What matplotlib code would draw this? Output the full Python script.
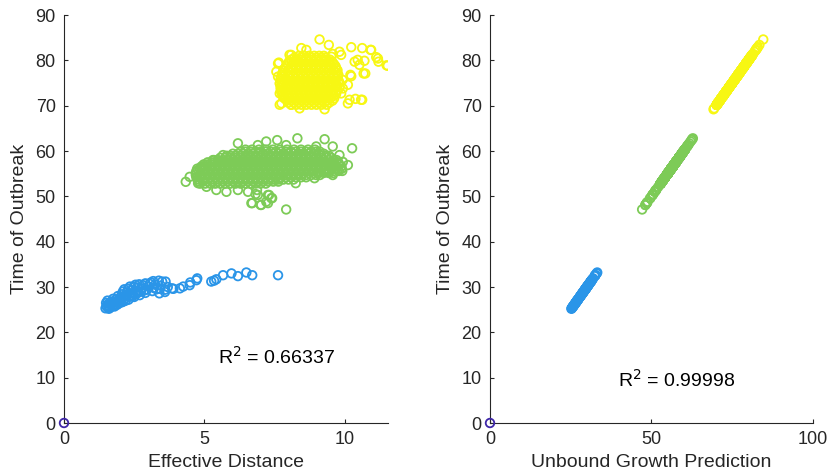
import numpy as np
import matplotlib
matplotlib.use("Agg")
import matplotlib.pyplot as plt

plt.rcParams['font.family'] = ['Liberation Sans', 'DejaVu Sans']

# ---------------- data ----------------
# Yellow cluster: dense core given as rows (time value, list of effective distances)
yellow_core_rows = [
    (70.2, [8.10, 8.28, 8.46, 8.64, 8.82, 9.00, 9.18, 9.36]),
    (70.65, [8.00, 8.19, 8.37, 8.55, 8.73, 8.91, 9.09, 9.27, 9.45]),
    (71.1, [7.95, 8.13, 8.31, 8.49, 8.67, 8.85, 9.03, 9.21, 9.39, 9.57]),
    (71.6, [7.86, 8.04, 8.22, 8.40, 8.58, 8.76, 8.94, 9.12, 9.30, 9.48, 9.63]),
    (72.1, [7.80, 7.98, 8.16, 8.34, 8.52, 8.70, 8.88, 9.06, 9.24, 9.42, 9.60]),
    (72.55, [7.78, 7.93, 8.11, 8.29, 8.47, 8.65, 8.83, 9.01, 9.19, 9.37, 9.55, 9.70]),
    (73.0, [7.75, 7.89, 8.07, 8.25, 8.43, 8.61, 8.79, 8.97, 9.15, 9.33, 9.51, 9.69]),
    (73.5, [7.73, 7.99, 8.17, 8.35, 8.53, 8.71, 8.89, 9.07, 9.25, 9.43, 9.61, 9.76]),
    (74.0, [7.72, 7.90, 8.08, 8.26, 8.44, 8.62, 8.80, 8.98, 9.16, 9.34, 9.52, 9.70, 9.82]),
    (74.45, [7.76, 7.95, 8.13, 8.31, 8.49, 8.67, 8.85, 9.03, 9.21, 9.39, 9.57, 9.74]),
    (74.9, [7.70, 7.81, 7.99, 8.17, 8.35, 8.53, 8.71, 8.89, 9.07, 9.25, 9.43, 9.61, 9.79]),
    (75.4, [7.74, 7.85, 8.03, 8.21, 8.39, 8.57, 8.75, 8.93, 9.11, 9.29, 9.47, 9.65, 9.80]),
    (75.9, [7.72, 7.90, 8.08, 8.26, 8.44, 8.62, 8.80, 8.98, 9.16, 9.34, 9.52, 9.70]),
    (76.35, [7.81, 7.99, 8.17, 8.35, 8.53, 8.71, 8.89, 9.07, 9.25, 9.43, 9.61, 9.76]),
    (76.8, [7.76, 7.99, 8.17, 8.35, 8.53, 8.71, 8.89, 9.07, 9.25, 9.43, 9.61, 9.78]),
    (77.3, [7.80, 8.08, 8.26, 8.44, 8.62, 8.80, 8.98, 9.16, 9.34, 9.52, 9.70]),
    (77.8, [7.82, 8.00, 8.18, 8.36, 8.54, 8.72, 8.90, 9.08, 9.26, 9.44, 9.62, 9.75]),
    (78.25, [7.88, 8.09, 8.27, 8.45, 8.63, 8.81, 8.99, 9.17, 9.35, 9.53, 9.70]),
    (78.7, [7.92, 8.09, 8.27, 8.45, 8.63, 8.81, 8.99, 9.17, 9.35, 9.53, 9.68]),
    (79.2, [7.97, 8.18, 8.36, 8.54, 8.72, 8.90, 9.08, 9.26, 9.44, 9.62]),
    (79.7, [8.02, 8.18, 8.36, 8.54, 8.72, 8.90, 9.08, 9.26, 9.44, 9.56]),
    (80.15, [8.10, 8.27, 8.45, 8.63, 8.81, 8.99, 9.17, 9.35, 9.48]),
    (80.6, [8.22, 8.45, 8.63, 8.81, 8.99, 9.17, 9.32]),
    (81.0, [8.38, 8.56, 8.74, 8.92, 9.10, 9.26]),
]
yellow_edge_dist = [9.11, 9.44, 8.46, 8.10, 7.66, 10.24, 10.63, 10.93, 11.13, 11.21,
                    11.50, 10.74, 10.47, 10.71, 9.88, 9.58, 10.21, 10.12, 9.88, 10.18,
                    10.39, 10.63, 10.12, 7.69, 7.75, 8.10, 7.57, 7.63, 11.19, 11.54,
                    10.68, 10.59, 7.69, 8.40, 9.29, 10.95, 9.82, 10.24, 9.94, 9.93,
                    7.63, 7.69, 7.75, 8.04, 8.64, 9.53, 10.36, 10.53]
yellow_edge_time = [84.6, 83.4, 82.7, 81.2, 79.5, 82.9, 82.7, 82.3, 80.7, 79.7,
                    78.9, 77.1, 80.1, 79.9, 81.2, 81.4, 76.8, 74.6, 72.7, 71.3,
                    71.5, 71.3, 70.5, 72.7, 70.5, 70.2, 77.5, 76.4, 80.4, 78.8,
                    77.1, 71.3, 70.2, 69.4, 69.2, 82.3, 81.9, 76.5, 73.8, 75.7,
                    79.3, 74.9, 73.1, 81.2, 82.3, 80.8, 79.7, 79.0]

# Green cluster: dense core rows (time value, list of effective distances)
green_core_rows = [
    (52.8, [4.85, 5.03, 5.21, 5.39, 5.57, 5.75, 5.93, 6.11, 6.29, 6.47, 6.65, 6.83, 7.01, 7.19]),
    (53.25, [4.80, 4.94, 5.12, 5.30, 5.48, 5.66, 5.84, 6.02, 6.20, 6.38, 6.56, 6.74, 6.92, 7.10,
             7.28, 7.46, 7.64]),
    (53.7, [4.76, 4.94, 5.12, 5.30, 5.48, 5.66, 5.84, 6.02, 6.20, 6.38, 6.56, 6.74, 6.92, 7.10,
            7.28, 7.46, 7.64, 7.82, 8.00, 8.18]),
    (54.2, [4.72, 4.85, 5.03, 5.21, 5.39, 5.57, 5.75, 5.93, 6.11, 6.29, 6.47, 6.65, 6.83, 7.01,
            7.19, 7.37, 7.55, 7.73, 7.91, 8.09, 8.27, 8.45, 8.63]),
    (54.7, [4.70, 4.85, 5.03, 5.21, 5.39, 5.57, 5.75, 5.93, 6.11, 6.29, 6.47, 6.65, 6.83, 7.01,
            7.19, 7.37, 7.55, 7.73, 7.91, 8.09, 8.27, 8.45, 8.63, 8.81, 8.99, 9.12]),
    (55.15, [4.70, 4.94, 5.12, 5.30, 5.48, 5.66, 5.84, 6.02, 6.20, 6.38, 6.56, 6.74, 6.92, 7.10,
             7.28, 7.46, 7.64, 7.82, 8.00, 8.18, 8.36, 8.54, 8.72, 8.90, 9.08, 9.26, 9.44, 9.60]),
    (55.6, [4.72, 4.94, 5.12, 5.30, 5.48, 5.66, 5.84, 6.02, 6.20, 6.38, 6.56, 6.74, 6.92, 7.10,
            7.28, 7.46, 7.64, 7.82, 8.00, 8.18, 8.36, 8.54, 8.72, 8.90, 9.08, 9.26, 9.44, 9.62,
            9.80, 9.92]),
    (56.1, [4.75, 4.85, 5.03, 5.21, 5.39, 5.57, 5.75, 5.93, 6.11, 6.29, 6.47, 6.65, 6.83, 7.01,
            7.19, 7.37, 7.55, 7.73, 7.91, 8.09, 8.27, 8.45, 8.63, 8.81, 8.99, 9.17, 9.35, 9.53,
            9.71, 9.90]),
    (56.6, [4.90, 5.03, 5.21, 5.39, 5.57, 5.75, 5.93, 6.11, 6.29, 6.47, 6.65, 6.83, 7.01, 7.19,
            7.37, 7.55, 7.73, 7.91, 8.09, 8.27, 8.45, 8.63, 8.81, 8.99, 9.17, 9.35, 9.53, 9.71,
            9.89]),
    (57.05, [4.98, 5.12, 5.30, 5.48, 5.66, 5.84, 6.02, 6.20, 6.38, 6.56, 6.74, 6.92, 7.10, 7.28,
             7.46, 7.64, 7.82, 8.00, 8.18, 8.36, 8.54, 8.72, 8.90, 9.08, 9.26, 9.44, 9.62, 9.80]),
    (57.5, [5.12, 5.30, 5.48, 5.66, 5.84, 6.02, 6.20, 6.38, 6.56, 6.74, 6.92, 7.10, 7.28, 7.46,
            7.64, 7.82, 8.00, 8.18, 8.36, 8.54, 8.72, 8.90, 9.08, 9.26, 9.44, 9.62, 9.78]),
    (58.0, [5.35, 5.48, 5.66, 5.84, 6.02, 6.20, 6.38, 6.56, 6.74, 6.92, 7.10, 7.28, 7.46, 7.64,
            7.82, 8.00, 8.18, 8.36, 8.54, 8.72, 8.90, 9.08, 9.26, 9.44, 9.62, 9.72]),
    (58.5, [5.57, 5.75, 5.93, 6.11, 6.29, 6.47, 6.65, 6.83, 7.01, 7.19, 7.37, 7.55, 7.73, 7.91,
            8.09, 8.27, 8.45, 8.63, 8.81, 8.99, 9.17, 9.35, 9.53]),
    (58.95, [5.80, 5.93, 6.11, 6.29, 6.47, 6.65, 6.83, 7.01, 7.19, 7.37, 7.55, 7.73, 7.91, 8.09,
             8.27, 8.45, 8.63, 8.81, 8.99, 9.17, 9.35, 9.45]),
    (59.4, [6.02, 6.20, 6.38, 6.56, 6.74, 6.92, 7.10, 7.28, 7.46, 7.64, 7.82, 8.00, 8.18, 8.36,
            8.54, 8.72, 8.90, 9.08, 9.26]),
    (59.85, [6.30, 6.47, 6.65, 6.83, 7.01, 7.19, 7.37, 7.55, 7.73, 7.91, 8.09, 8.27, 8.45, 8.63,
             8.81, 8.99, 9.12]),
    (60.3, [6.47, 6.70, 6.95, 7.20, 7.45, 7.70, 7.95, 8.20, 8.45, 8.70, 8.95]),
]
green_edge_dist = [10.27, 10.12, 9.29, 8.32, 7.60, 7.21, 6.20, 8.99, 9.58, 4.34,
                   4.48, 4.78, 5.79, 6.20, 6.56, 6.88, 6.91, 6.71, 7.03, 7.27,
                   7.21, 7.42, 7.92, 7.69, 8.26, 8.93, 9.58, 5.43, 5.08, 9.82,
                   9.94, 9.76, 9.35, 4.96, 5.31, 5.67, 6.91, 7.92, 6.68, 7.01,
                   7.27, 7.39, 7.31, 6.83]
green_edge_time = [60.6, 56.9, 62.6, 62.8, 62.4, 62.1, 61.7, 61.0, 61.0, 53.2,
                   54.3, 52.9, 51.0, 51.4, 51.0, 51.4, 50.3, 48.5, 48.1, 50.3,
                   48.8, 49.6, 47.1, 54.0, 52.9, 54.0, 54.7, 51.4, 52.1, 59.1,
                   57.6, 55.8, 55.4, 56.6, 58.0, 59.1, 61.3, 61.3, 48.5, 48.1,
                   48.5, 49.6, 50.3, 50.5]

# Blue cluster
blue_dist = [1.48, 1.52, 1.50, 1.55, 1.62, 1.66, 1.70, 1.58, 1.78, 1.82, 1.86, 1.75,
             1.95, 1.98, 2.02, 2.06, 1.92, 2.12, 2.16, 2.20, 2.24, 2.10, 2.30, 2.34,
             2.38, 2.42, 2.28, 2.50, 2.54, 2.58, 2.62, 2.48, 2.70, 2.74, 2.78, 2.82,
             2.68, 2.90, 2.95, 3.00, 3.05, 3.15, 3.20, 3.25, 3.10, 3.40, 3.42, 3.45,
             3.50, 3.38, 3.62, 3.60, 3.70, 3.85, 3.90, 3.60, 4.13, 4.25, 4.48, 4.50,
             4.72, 4.75, 5.25, 5.35, 5.43, 5.67, 5.97, 6.20, 6.50, 6.71, 7.63,
             1.60, 1.72, 1.90, 2.05, 2.20, 2.45, 2.65, 2.85, 3.30, 2.35, 2.55, 2.90,
             3.18, 2.15, 1.53, 1.64, 1.68, 1.80, 1.88, 2.00, 2.14, 2.26, 2.40, 2.60]
blue_time = [25.3, 25.9, 26.5, 27.0, 25.6, 26.2, 26.8, 26.3, 26.0, 26.6, 27.3, 27.4,
             26.4, 27.0, 27.7, 28.4, 28.0, 26.8, 27.4, 28.1, 28.8, 29.0, 27.2, 27.9,
             28.6, 29.3, 29.6, 27.8, 28.5, 29.2, 29.9, 30.1, 28.2, 29.0, 29.7, 30.4,
             30.6, 28.7, 29.4, 30.1, 30.7, 29.1, 29.8, 30.5, 31.0, 28.6, 29.6, 30.3,
             31.2, 31.4, 31.2, 29.4, 30.0, 29.7, 29.6, 28.9, 29.7, 30.1, 30.4, 31.0,
             31.5, 31.9, 31.2, 31.4, 31.7, 32.6, 33.0, 32.4, 33.2, 32.6, 32.6,
             25.2, 25.8, 26.1, 26.6, 27.0, 28.0, 28.8, 29.2, 29.5, 30.1, 30.5, 30.8,
             31.3, 29.5, 25.6, 25.4, 26.5, 25.7, 26.9, 27.3, 27.9, 28.4, 28.2, 28.6]

origin_x = [0.0]
origin_y = [0.0]

r2_left = "0.66337"
r2_right = "0.99998"

# Build full arrays
yellow_dist = [x for y, xs in yellow_core_rows for x in xs] + yellow_edge_dist
yellow_time = [y for y, xs in yellow_core_rows for x in xs] + yellow_edge_time
green_dist = [x for y, xs in green_core_rows for x in xs] + green_edge_dist
green_time = [y for y, xs in green_core_rows for x in xs] + green_edge_time

# Unbound growth prediction coincides with the time of outbreak (R^2 = 0.99998)
blue_pred = blue_time
green_pred = green_time
yellow_pred = yellow_time

# ---------------- styling ----------------
c_blue = '#2A95E8'
c_green = '#7DCB57'
c_yellow = '#F7F713'
c_origin = '#3E26A8'
axis_col = '#262626'

fig = plt.figure(figsize=(8.28, 4.76), dpi=100)
ax1 = fig.add_axes([64/828, 1-423/476, (388-64)/828, (423-15)/476])
ax2 = fig.add_axes([490/828, 1-423/476, (813-490)/828, (423-15)/476])

ms = 38
lw = 1.3

def draw(ax, bx, by, gx, gy, yx, yy):
    ax.scatter(bx, by, s=ms, facecolors='none', edgecolors=c_blue, linewidths=lw, zorder=3)
    ax.scatter(gx, gy, s=ms, facecolors='none', edgecolors=c_green, linewidths=lw, zorder=3)
    ax.scatter(yx, yy, s=ms, facecolors='none', edgecolors=c_yellow, linewidths=lw, zorder=3)
    ax.scatter(origin_x, origin_y, s=ms, facecolors='none', edgecolors=c_origin,
               linewidths=lw, zorder=5, clip_on=False)
    for side in ('top', 'right'):
        ax.spines[side].set_visible(False)
    for side in ('left', 'bottom'):
        ax.spines[side].set_color(axis_col)
        ax.spines[side].set_linewidth(0.8)
    ax.tick_params(direction='in', length=3.2, width=0.8, color=axis_col,
                   labelcolor=axis_col, labelsize=13, pad=6)
    ax.set_ylim(0, 90)
    ax.set_yticks(np.arange(0, 91, 10))
    ax.set_ylabel('Time of Outbreak', fontsize=14, color=axis_col, labelpad=5)

draw(ax1, blue_dist, blue_time, green_dist, green_time, yellow_dist, yellow_time)
ax1.set_xlim(0, 11.55)
ax1.set_xticks([0, 5, 10])
ax1.set_xlabel('Effective Distance', fontsize=14, color=axis_col, labelpad=4)
ax1.text(5.5, 14.6, r'R$^2$ = ' + r2_left, fontsize=14, va='center', ha='left', color='black')

draw(ax2, blue_pred, blue_time, green_pred, green_time, yellow_pred, yellow_time)
ax2.set_xlim(0, 100)
ax2.set_xticks([0, 50, 100])
ax2.set_xlabel('Unbound Growth Prediction', fontsize=14, color=axis_col, labelpad=4)
ax2.text(39.6, 9.5, r'R$^2$ = ' + r2_right, fontsize=14, va='center', ha='left', color='black')

fig.savefig('out.png', dpi=100)
